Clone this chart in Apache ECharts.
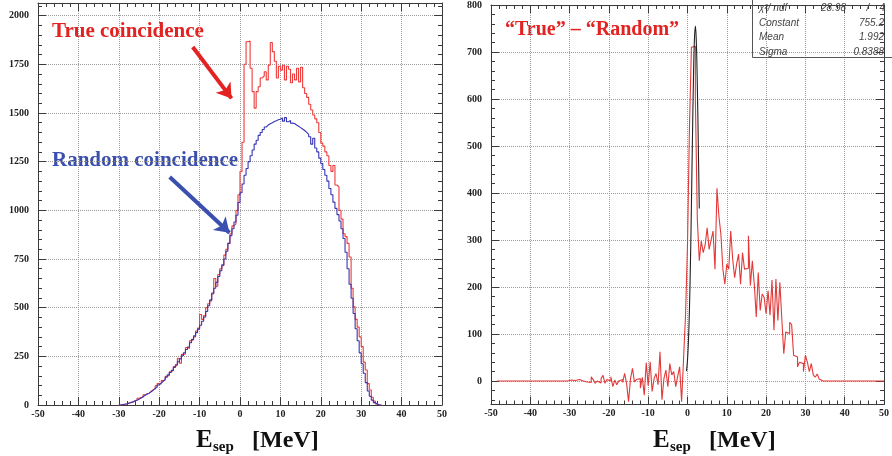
<!DOCTYPE html>
<html><head><meta charset="utf-8">
<script src="https://cdn.jsdelivr.net/npm/echarts@6/dist/echarts.min.js"></script>
<style>html,body{margin:0;padding:0;background:#fff}#c{width:892px;height:456px}</style>
</head><body><div id="c"></div>
<script>
// ---------- data (0.5 MeV bins) ----------
const binWidth = 0.5;
const leftStart = -30;   // lower edge of first bin, left panel
const randomCounts = [
  0,0,2,4,6,9,12,16,20,25,
  30,36,42,50,55,61,68,76,85,92,
  103,112,122,132,143,155,167,178,193,207,
  222,237,253,268,285,298,320,337,355,372,
  390,410,430,452,480,510,540,575,600,630,
  660,690,720,750,790,830,870,905,940,975,
  1040,1090,1135,1180,1215,1250,1280,1310,1340,1360,
  1385,1400,1415,1428,1438,1445,1450,1456,1460,1465,
  1468,1475,1458,1476,1455,1462,1448,1446,1438,1432,
  1425,1418,1410,1400,1390,1378,1340,1370,1320,1300,
  1268,1240,1210,1180,1150,1112,1080,1042,1010,978,
  945,905,855,785,700,620,548,470,392,330,
  268,212,163,115,72,45,25,12,4,0
];
const trueCounts = [
  0,0,1,3,5,10,14,15,22,24,
  35,38,40,52,58,60,70,78,82,98,
  110,108,125,130,148,152,170,178,198,205,
  240,215,260,262,295,290,330,335,350,380,
  395,465,440,460,500,520,535,570,650,610,
  670,700,715,770,800,830,880,920,930,1000,
  1080,1200,1350,1750,1866,1870,1730,1610,1525,1610,
  1635,1680,1690,1712,1670,1746,1862,1815,1766,1680,
  1740,1720,1745,1670,1740,1725,1655,1700,1670,1730,
  1660,1735,1630,1600,1580,1545,1515,1490,1470,1450,
  1400,1345,1330,1300,1280,1230,1200,1230,1130,1120,
  1000,955,880,865,830,760,600,505,440,400,
  350,300,220,180,110,77,40,20,6,0
];
const diffStart = -48.5; // lower edge of first bin, right panel
const diffCounts = [
  0,0,0,0,0,0,0,0,0,0,0,0,0,0,0,0,0,0,0,0,0,0,0,0,0,0,0,0,0,0,0,0,0,0,0,0,0,
  0,2,0,1,-2,3,6,0,-3,-2,
  2,-3,9,3,-5,0,-4,5,12,-5,
  3,0,9,-12,2,-8,0,3,
  -3,16,-5,-44,5,27,-2,3,5,-15,
  8,-30,39,-10,41,-22,5,16,-8,62,
  -40,5,23,-12,37,13,20,-12,10,30,
  -44,48,
  140,290,540,710,712,600,
  345,256,298,273,290,326,280,300,319,238,
  410,350,312,238,206,249,238,319,259,220,
  249,270,206,273,238,240,309,203,256,205,
  136,231,150,185,178,143,192,140,215,108,
  217,129,210,132,58,104,101,125,120,55,
  51,30,40,37,20,55,40,20,37,13,
  8,15,4,0,
  0,0,0,0,0,0,0,0,0,0,0,0,0,0,0,0,0,0,0,0,0,0,0,0,0,0,0,0,0,0
];
const fitE = [-0.25,0,0.25,0.5,0.75,1.0,1.25,1.5,1.75,2.0,2.25,2.5,2.75,3.0];
const fitV = [21,45,87,155,252,375,511,636,724,755,720,629,502,367];
// tick labels
const diffMajorTicks = [0,100,200,300,400,500,600,700,800];
const diffMinorTicks = [-40,-20,0,20,40,60,80,100,120,140,160,180,200,220,240,260,280,300,320,340,360,380,
  400,420,440,460,480,500,520,540,560,580,600,620,640,660,680,700,720,740,760,780,800];
const statsLabels = ['\u03c7\u00b2/ ndf','Constant','Mean','Sigma'];
const statsValues = ['755.2','1.992','0.8388'];
const chiValue = '28.98', ndfValue = '4';

// ---------- helpers ----------
function toSteps(start, w, vals){
  const pts = vals.map((v,i)=>[start + i*w, v]);
  pts.push([start + vals.length*w, vals[vals.length-1]]);
  return pts;
}
const AX = '#3a3a3a';
const LBL = {fontFamily:'Liberation Serif', fontWeight:'bold', fontSize:10, color:'#222'};
const GRIDLINE = {type:'dotted', color:'#9a9a9a', width:1};
function xAx(gi, pos){
  const main = pos === 'bottom';
  return {type:'value', gridIndex:gi, min:-50, max:50, interval:10, position:pos,
    axisLine:{show:true, onZero:false, lineStyle:{color:AX, width:1}},
    axisTick:{show:true, inside:true, length:8, lineStyle:{color:AX}},
    minorTick:{show:true, splitNumber:5, length:4, lineStyle:{color:AX}},
    axisLabel:Object.assign({show:main, margin:4}, LBL),
    splitLine:{show:main, lineStyle:GRIDLINE}};
}
function yAxLeft(pos){
  const main = pos === 'left';
  return {type:'value', gridIndex:0, min:0, max:2065, interval:250, position:pos,
    axisLine:{show:true, onZero:false, lineStyle:{color:AX, width:1}},
    axisTick:{show:true, inside:true, length:8, lineStyle:{color:AX}},
    minorTick:{show:true, splitNumber:5, length:4, lineStyle:{color:AX}},
    axisLabel:Object.assign({show:main, margin:9, showMaxLabel:false,
      formatter:v => (v % 250 === 0 ? String(v) : '')}, LBL),
    splitLine:{show:main, lineStyle:GRIDLINE}};
}
function yAxRight(pos, major){
  const main = pos === 'left' && major;
  return {type:'value', gridIndex:1, min:-50, max:800, interval:50, position:pos,
    axisLine:{show:major, onZero:false, lineStyle:{color:AX, width:1}},
    axisTick:{show:true, inside:true, length:major?8:4, lineStyle:{color:AX},
      customValues: major ? diffMajorTicks : diffMinorTicks},
    minorTick:{show:false},
    axisLabel:Object.assign({show:main, margin:9, customValues:diffMajorTicks}, LBL),
    splitLine:{show:main, lineStyle:GRIDLINE}};
}

const chart = echarts.init(document.getElementById('c'), null, {renderer:'canvas', width:892, height:456});
const option = {
  backgroundColor:'#ffffff',
  animation:false,
  grid:[
    {left:38, top:3, width:404, height:402},
    {left:491, top:4, width:397, height:400.5}
  ],
  xAxis:[ xAx(0,'bottom'), xAx(0,'top'), xAx(1,'bottom'), xAx(1,'top') ],
  yAxis:[
    yAxLeft('left'), yAxLeft('right'),
    yAxRight('left', true), yAxRight('right', true),
    yAxRight('left', false), yAxRight('right', false)
  ],
  series:[
    {type:'line', name:'True coincidence', xAxisIndex:0, yAxisIndex:0, step:'start', showSymbol:false,
      data:toSteps(leftStart, binWidth, trueCounts), lineStyle:{color:'#ee3b3b', width:1.1}, z:3},
    {type:'line', name:'Random coincidence', xAxisIndex:0, yAxisIndex:0, step:'start', showSymbol:false,
      data:toSteps(leftStart, binWidth, randomCounts), lineStyle:{color:'#3535b5', width:1.1}, z:4},
    {type:'lines', coordinateSystem:'cartesian2d', xAxisIndex:0, yAxisIndex:0, z:6,
      symbol:['none','arrow'], symbolSize:14,
      data:[
        {coords:[[-11.7,1839],[-2.1,1575]], lineStyle:{color:'#e32222', width:4, opacity:1}},
        {coords:[[-17.4,1171],[-2.6,885]], lineStyle:{color:'#3b4fae', width:4, opacity:1}}
      ]},
    {type:'line', name:'True - Random', xAxisIndex:2, yAxisIndex:2, step:'start', showSymbol:false,
      data:toSteps(diffStart, binWidth, diffCounts), lineStyle:{color:'#e23a3a', width:1.1}, z:3},
    {type:'line', name:'Gaussian fit', xAxisIndex:2, yAxisIndex:2, smooth:true, showSymbol:false,
      data:fitE.map((e,i)=>[e, fitV[i]]), lineStyle:{color:'#222', width:1.1}, z:4}
  ],
  graphic:[
    {type:'text', left:52, top:21, style:{text:'True coincidence', font:'bold 21px "Liberation Serif"', fill:'#e32222'}},
    {type:'text', left:52, top:150, style:{text:'Random coincidence', font:'bold 21px "Liberation Serif"', fill:'#3b4fae'}},
    {type:'text', left:505, top:20, style:{text:'\u201cTrue\u201d \u2013 \u201cRandom\u201d', font:'bold 20px "Liberation Serif"', fill:'#e32222'}},
    // axis titles
    {type:'text', left:196, top:428, style:{text:'E', font:'bold 25px "Liberation Serif"', fill:'#111'}},
    {type:'text', left:213, top:440, style:{text:'sep', font:'bold 15px "Liberation Serif"', fill:'#111'}},
    {type:'text', left:252, top:429, style:{text:'[MeV]', font:'bold 24px "Liberation Serif"', fill:'#111'}},
    {type:'text', left:653, top:428, style:{text:'E', font:'bold 25px "Liberation Serif"', fill:'#111'}},
    {type:'text', left:670, top:440, style:{text:'sep', font:'bold 15px "Liberation Serif"', fill:'#111'}},
    {type:'text', left:709, top:429, style:{text:'[MeV]', font:'bold 24px "Liberation Serif"', fill:'#111'}},
    // stats box
    {type:'rect', shape:{x:752.5, y:-3, width:145, height:60.5}, style:{fill:'rgba(255,255,255,0)', stroke:'#555', lineWidth:1}, z:10},
    {type:'text', x:759, y:3, style:{text:statsLabels[0], font:'italic 10px "Liberation Sans"', fill:'#444'}, z:11},
    {type:'text', x:759, y:18, style:{text:statsLabels[1], font:'italic 10px "Liberation Sans"', fill:'#444'}, z:11},
    {type:'text', x:759, y:32, style:{text:statsLabels[2], font:'italic 10px "Liberation Sans"', fill:'#444'}, z:11},
    {type:'text', x:759, y:47, style:{text:statsLabels[3], font:'italic 10px "Liberation Sans"', fill:'#444'}, z:11},
    {type:'text', x:846, y:3, style:{text:chiValue, align:'right', font:'italic 10px "Liberation Sans"', fill:'#444'}, z:11},
    {type:'text', x:868, y:3, style:{text:'/', align:'center', font:'italic 10px "Liberation Sans"', fill:'#444'}, z:11},
    {type:'text', x:885, y:3, style:{text:ndfValue, align:'right', font:'italic 10px "Liberation Sans"', fill:'#444'}, z:11},
    {type:'text', x:884, y:18, style:{text:statsValues[0], align:'right', font:'italic 10px "Liberation Sans"', fill:'#444'}, z:11},
    {type:'text', x:884, y:32, style:{text:statsValues[1], align:'right', font:'italic 10px "Liberation Sans"', fill:'#444'}, z:11},
    {type:'text', x:884, y:47, style:{text:statsValues[2], align:'right', font:'italic 10px "Liberation Sans"', fill:'#444'}, z:11}
  ]
};
chart.setOption(option);
</script></body></html>
